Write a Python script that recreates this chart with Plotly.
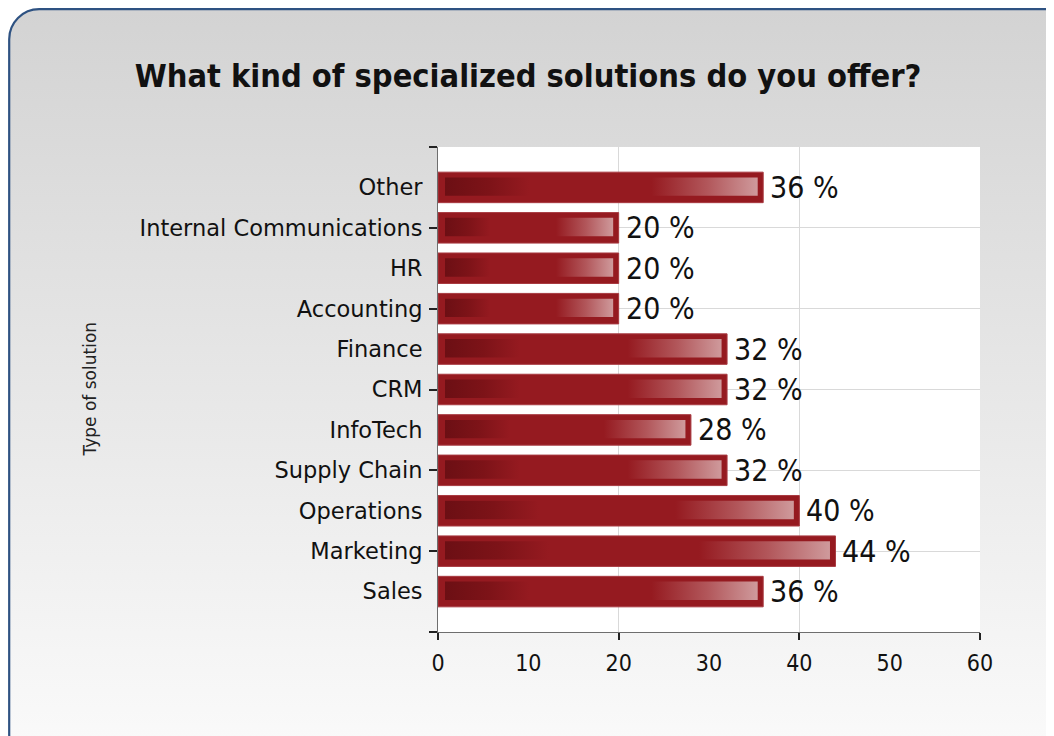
import base64
import plotly.graph_objects as go

# ---- data ----
categories = ["Sales", "Marketing", "Operations", "Supply Chain", "InfoTech",
              "CRM", "Finance", "Accounting", "HR", "Internal Communications", "Other"]
values = [36, 44, 40, 32, 28, 32, 32, 20, 20, 20, 36]
x_tick_vals = [0, 10, 20, 30, 40, 50, 60]
title_text = "What kind of specialized solutions do you offer?"
y_title = "Type of solution"

W, H = 1054, 736
ML, MR, MT, MB = 430, 82, 139, 112
PW, PH = W - ML - MR, H - MT - MB

COND = "DejaVu Sans Condensed, DejaVu Sans, sans-serif"
REG = "DejaVu Sans, sans-serif"
BAR_RED = "#951a20"

fig = go.Figure()

pos = list(range(len(categories)))

fig.add_trace(go.Bar(
    y=pos, x=values, orientation="h", width=0.755,
    marker=dict(color=BAR_RED, line=dict(color="#a83a40", width=1)),
    hoverinfo="skip", showlegend=False,
))

# inner gradient highlight of every bar, derived from the values
px_per_x = PW / 60.0
px_per_y = PH / 12.0
in_l = 7 / px_per_x
in_r = 5.5 / px_per_x
half_h = 9.2 / px_per_y
grad = [[0.0, "#6c0f14"], [0.14, "#7d1318"], [0.27, "#951a20"],
        [0.66, "#951a20"], [0.84, "#b2575b"], [1.0, "#cf9a9c"]]
for p, v in zip(pos, values):
    x0, x1 = in_l, v - in_r
    yc = p + 0.02
    fig.add_trace(go.Scatter(
        x=[x0, x1, x1, x0, x0],
        y=[yc - half_h, yc - half_h, yc + half_h, yc + half_h, yc - half_h],
        mode="lines", line=dict(width=0), fill="toself",
        fillgradient=dict(type="horizontal", colorscale=grad),
        hoverinfo="skip", showlegend=False,
    ))

# value labels
for p, v in zip(pos, values):
    fig.add_annotation(
        x=v, y=p, text=f"{v} %", showarrow=False, xanchor="left",
        yanchor="middle", xshift=5,
        font=dict(family=COND, size=30, color="#111111"),
    )

# panel background (rounded, vertical gradient) as an SVG image
svg = f'''<svg xmlns="http://www.w3.org/2000/svg" width="{W}" height="{H}" viewBox="0 0 {W} {H}">
<defs><linearGradient id="g" x1="0" y1="0" x2="0" y2="1">
<stop offset="0" stop-color="#d3d3d3"/><stop offset="1" stop-color="#fbfbfb"/></linearGradient></defs>
<rect x="1.2" y="1.2" width="{W+20}" height="{H+20}" rx="30" ry="30" fill="url(#g)" stroke="#2e5282" stroke-width="2.2"/>
</svg>'''
src = "data:image/svg+xml;base64," + base64.b64encode(svg.encode()).decode()

fig.add_layout_image(dict(
    source=src, xref="paper", yref="paper",
    x=-ML / PW, y=1 + MT / PH, sizex=W / PW, sizey=H / PH,
    xanchor="left", yanchor="top", sizing="stretch", layer="below",
))

# white plotting area
fig.add_shape(type="rect", xref="x", yref="y", x0=0, x1=60, y0=-1, y1=11,
              fillcolor="white", line=dict(width=0), layer="below")

fig.add_annotation(
    text=y_title, textangle=-90, xref="paper", yref="paper",
    x=(81 - ML) / PW, y=0.5, showarrow=False, xanchor="center",
    font=dict(family=REG, size=17, color="#222222"),
)

fig.update_layout(
    width=W, height=H,
    margin=dict(l=ML, r=MR, t=MT, b=MB),
    paper_bgcolor="white", plot_bgcolor="rgba(0,0,0,0)",
    title=dict(text=f"<b>{title_text}</b>", x=(520 - ML) / PW, xref="paper",
               xanchor="center", y=1 - 68 / H, yanchor="middle",
               font=dict(family=COND, size=32.3, color="#111111")),
    xaxis=dict(
        range=[0, 60], tickvals=x_tick_vals, showgrid=False, zeroline=False,
        ticks="outside", ticklen=6, tickcolor="rgba(0,0,0,0)",
        showline=True, linecolor="#6e6e6e", linewidth=1,
        tickfont=dict(family=COND, size=23, color="#111111"),
        ticklabelstandoff=4,
        minor=dict(tickvals=[0, 20, 40, 60], ticks="outside", ticklen=7,
                   tickcolor="#222222", tickwidth=1.5, showgrid=True,
                   gridcolor="#d9d9d9", gridwidth=1),
        fixedrange=True,
    ),
    yaxis=dict(
        range=[-1, 11], tickvals=pos, ticktext=categories, showgrid=False,
        zeroline=False, ticks="outside", ticklen=8, tickcolor="rgba(0,0,0,0)",
        showline=True, linecolor="#6e6e6e", linewidth=1,
        tickfont=dict(family=REG, size=22.5, color="#111111"),
        ticklabelstandoff=2,
        minor=dict(tickvals=[-1, 1, 3, 5, 7, 9, 11], ticks="outside", ticklen=8,
                   tickcolor="#222222", tickwidth=1.5, showgrid=True,
                   gridcolor="#d9d9d9", gridwidth=1),
        fixedrange=True,
    ),
)

fig.write_html("out.html")
